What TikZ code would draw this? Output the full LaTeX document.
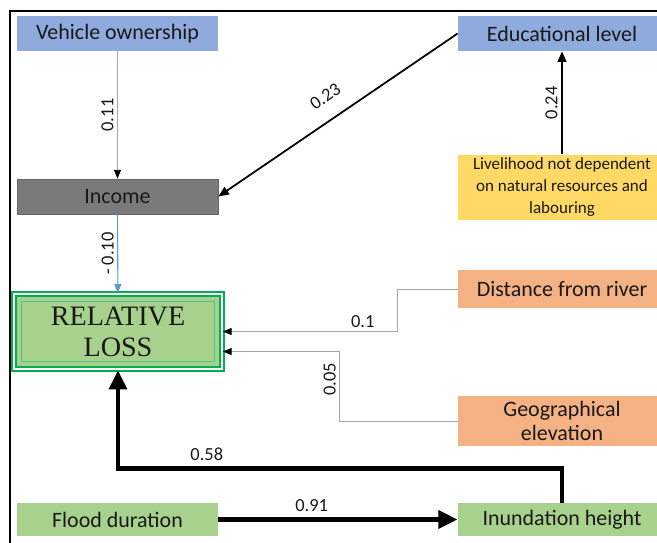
\documentclass[tikz,border=0pt]{standalone}
\usepackage{fontspec}
\setmainfont{Carlito}
\newfontfamily\rlfont{Liberation Serif}
\usetikzlibrary{arrows.meta}
\definecolor{boxblue}{HTML}{8FAADC}
\definecolor{boxgray}{HTML}{7A7A7A}
\definecolor{boxyellow}{HTML}{FFD966}
\definecolor{boxsalmon}{HTML}{F4B183}
\definecolor{boxgreen}{HTML}{A9D18E}
\definecolor{rlgreen}{HTML}{00B050}
\definecolor{linkblue}{HTML}{5B9BD5}

\begin{document}
\begin{tikzpicture}[every node/.style={font=\fontsize{12.5}{14}\selectfont, text=black!90},
	factor/.style={minimum height=0.7cm, inner sep=2pt},
	lbl/.style={font=\fontsize{10.5}{12}\selectfont, inner sep=2pt},
	thin link/.style={draw=gray!70, line width=0.5pt, -{Triangle[length=5pt,width=4pt,black]}},
	mid link/.style={line width=1pt, -{Triangle[length=6pt,width=5pt]}},
	thick link/.style={line width=2.6pt, -{Triangle[length=11pt,width=10pt]}}]
	\useasboundingbox (0,0) rectangle (13.14,-10.86);
	\draw[line width=1pt] (0.2,-10.9) -- (0.2,-0.22) -- (13.2,-0.22);
	\node[factor, fill=boxblue, minimum width=4.02cm] (veh) at (2.35,-0.67) {Vehicle ownership};
	\node[factor, fill=boxblue, minimum width=4.16cm] (edu) at (11.24,-0.67) {Educational level};
	\node[factor, fill=boxgray, draw=black!60, minimum width=4.02cm] (inc) at (2.35,-3.93) {Income};
	\node[factor, fill=boxyellow, minimum width=4.16cm, minimum height=1.3cm, align=center, font=\fontsize{9.7}{12.5}\selectfont] (liv) at (11.24,-3.75) {Livelihood not dependent\\on natural resources and\\labouring};
	\node[draw=rlgreen, double=white, double distance=1pt, line width=1.3pt, fill=boxgreen, minimum width=4.15cm, minimum height=1.5cm, align=center, font=\rlfont\fontsize{16}{17.5}\selectfont] (rl) at (2.36,-6.63) {RELATIVE\\LOSS};
	\draw[rlgreen!70, line width=0.6pt] ([shift={(5pt,5pt)}]rl.south west) rectangle ([shift={(-5pt,-5pt)}]rl.north east);
	\node[factor, fill=boxsalmon, minimum width=4.16cm, minimum height=0.76cm] (dist) at (11.24,-5.78) {Distance from river};
	\node[factor, fill=boxsalmon, minimum width=4.16cm, minimum height=1cm, align=center, text width=3.9cm] (geo) at (11.24,-8.42) {Geographical\\elevation};
	\node[factor, fill=boxgreen, minimum width=4.02cm, minimum height=0.66cm] (flood) at (2.35,-10.39) {Flood duration};
	\node[factor, fill=boxgreen, minimum width=4.16cm, minimum height=0.66cm] (inund) at (11.24,-10.39) {Inundation height};
	\draw[thin link] (veh) -- node[lbl, midway, rotate=90, above] {0.11} (inc);
	\draw[mid link] (edu.west) -- node[lbl, pos=0.5, sloped, above=7pt] {0.23} (inc.east);
	\draw[mid link] (liv) -- node[lbl, midway, rotate=90, above] {0.24} (edu);
	\draw[draw=linkblue, line width=0.6pt, -{Triangle[length=5pt,width=4pt]}] (inc) -- node[lbl, midway, rotate=90, above] {- 0.10} (rl);
	\draw[thin link] (dist.west) -- ++(-1.2,0) |- node[lbl, pos=0.6, above] {0.1} (rl.east);
	\draw[thin link] (geo.west) -- ++(-2.36,0) |- node[lbl, pos=0.3, rotate=90, above] {0.05} ([yshift=-0.4cm]rl.east);
	\draw[thick link] (inund.north) -- ++(0,0.68) -| node[lbl, pos=0.4, above=1pt] {0.58} (rl.south);
	\draw[thick link] (flood) -- node[lbl, pos=0.39, above=1pt] {0.91} (inund);
\end{tikzpicture}
\end{document}
